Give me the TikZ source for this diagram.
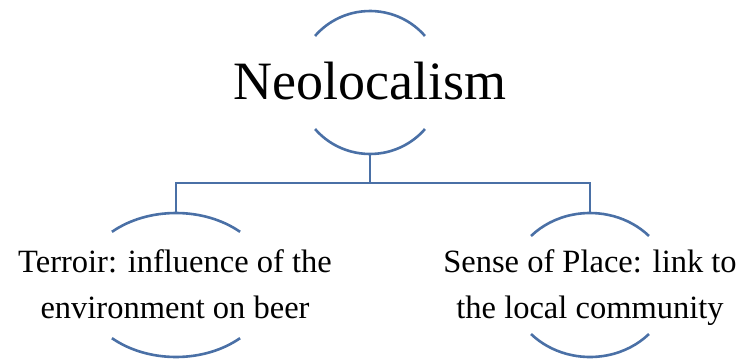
\documentclass[tikz,border=0pt]{standalone}
\usepackage{fontspec}
\setmainfont{Liberation Serif}
\definecolor{arcblue}{HTML}{4A70A6}
\begin{document}
\begin{tikzpicture}[x=1pt,y=-1pt,
  arcline/.style={draw=arcblue,line width=2.6pt},
  conn/.style={draw=arcblue,line width=2.4pt},
  toptext/.style={inner sep=0pt,font=\fontsize{54}{60}\selectfont,anchor=base},
  childtext/.style={inner sep=0pt,align=center,font=\fontsize{32.5}{46}\selectfont,anchor=base}]
\useasboundingbox (0,0) rectangle (738,359);
% top node
\node[toptext] (neo) at (370,99) {Neolocalism};
\coordinate (neoC) at (370,82.5);
\draw[arcline] (neoC) ++(40.6:72.4pt and 71.5pt) arc[start angle=40.6,end angle=139.4,x radius=72.4pt,y radius=71.5pt];
\draw[arcline] (neoC) ++(220.6:72.4pt and 71.5pt) arc[start angle=220.6,end angle=319.4,x radius=72.4pt,y radius=71.5pt];
\coordinate (neoB) at (370,154);
% left node
\node[childtext] (terroir) at (175,318) {Terroir: influence of the\\environment on beer};
\coordinate (leftC) at (176,285);
\draw[arcline] (leftC) ++(47.6:95pt and 72pt) arc[start angle=47.6,end angle=132.4,x radius=95pt,y radius=72pt];
\draw[arcline] (leftC) ++(227.6:95pt and 72pt) arc[start angle=227.6,end angle=312.4,x radius=95pt,y radius=72pt];
\coordinate (leftT) at (176,213);
% right node
\node[childtext] (sense) at (590,318) {Sense of Place: link to\\the local community};
\coordinate (rightC) at (590,285);
\draw[arcline] (rightC) ++(42.9:80.5pt and 72pt) arc[start angle=42.9,end angle=137.1,x radius=80.5pt,y radius=72pt];
\draw[arcline] (rightC) ++(222.9:80.5pt and 72pt) arc[start angle=222.9,end angle=317.1,x radius=80.5pt,y radius=72pt];
\coordinate (rightT) at (590,213);
% connectors
\coordinate (bus) at (370,183);
\draw[conn] (neoB) -- (bus);
\draw[conn] (leftT) |- (bus) -| (rightT);
\end{tikzpicture}
\end{document}
